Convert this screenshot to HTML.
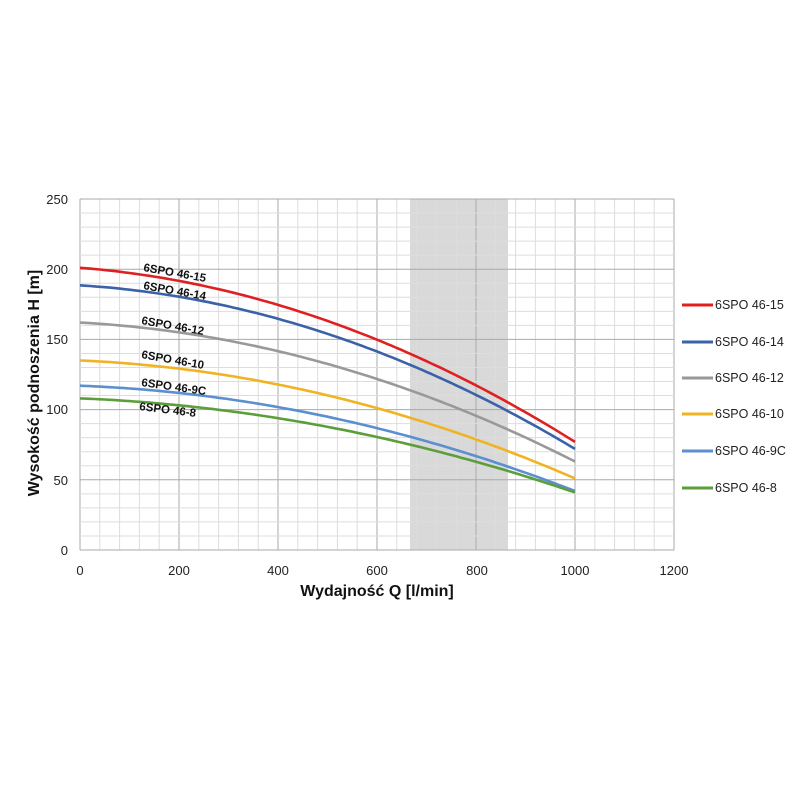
<!DOCTYPE html>
<html><head><meta charset="utf-8"><style>
body{margin:0;background:#fff;width:800px;height:800px;overflow:hidden}
svg{font-family:"Liberation Sans",sans-serif}
</style></head><body>
<svg id="s" width="800" height="800" xmlns="http://www.w3.org/2000/svg">
<rect x="410" y="199" width="98" height="351" fill="#d9d9d9"/>
<g id="grid"></g>
<g id="curves" fill="none" stroke-width="2.6" stroke-linejoin="round"></g>
<g font-size="11.5" font-weight="bold" fill="#111">
<text transform="translate(143,271) rotate(10)">6SPO 46-15</text>
<text transform="translate(143,289) rotate(10)">6SPO 46-14</text>
<text transform="translate(141,324) rotate(10)">6SPO 46-12</text>
<text transform="translate(141,358) rotate(10)">6SPO 46-10</text>
<text transform="translate(141,386) rotate(8)">6SPO 46-9C</text>
<text transform="translate(139,410) rotate(7)">6SPO 46-8</text>
</g>
<g font-size="13" fill="#222" text-anchor="end">
<text x="68" y="204">250</text><text x="68" y="274">200</text><text x="68" y="344">150</text>
<text x="68" y="414">100</text><text x="68" y="485">50</text><text x="68" y="555">0</text>
</g>
<g font-size="13" fill="#222" text-anchor="middle">
<text x="80" y="575">0</text><text x="179" y="575">200</text><text x="278" y="575">400</text>
<text x="377" y="575">600</text><text x="477" y="575">800</text><text x="575" y="575">1000</text><text x="674" y="575">1200</text>
</g>
<text x="377" y="596" font-size="16" font-weight="bold" text-anchor="middle" fill="#111">Wydajność Q [l/min]</text>
<text transform="translate(39,383) rotate(-90)" font-size="16" font-weight="bold" text-anchor="middle" fill="#111">Wysokość podnoszenia H [m]</text>
<g stroke-width="3">
<line x1="682" y1="305" x2="713" y2="305" stroke="#e02020"/>
<line x1="682" y1="342" x2="713" y2="342" stroke="#3b62a8"/>
<line x1="682" y1="378" x2="713" y2="378" stroke="#999"/>
<line x1="682" y1="414" x2="713" y2="414" stroke="#f0b323"/>
<line x1="682" y1="451" x2="713" y2="451" stroke="#5b8fd0"/>
<line x1="682" y1="488" x2="713" y2="488" stroke="#5c9e3c"/>
</g>
<g font-size="12.5" fill="#222">
<text x="715" y="309">6SPO 46-15</text><text x="715" y="346">6SPO 46-14</text>
<text x="715" y="382">6SPO 46-12</text><text x="715" y="418">6SPO 46-10</text>
<text x="715" y="455">6SPO 46-9C</text><text x="715" y="492">6SPO 46-8</text>
</g>
</svg>
<script>
var g=document.getElementById('grid'),h='';
var x0=80,x1=674,y0=550,y1=199;
for(var i=0;i<=30;i++){var x=x0+(x1-x0)*i/30;var maj=i%5==0;
h+='<line x1="'+x+'" y1="'+y1+'" x2="'+x+'" y2="'+y0+'" stroke="'+(maj?'#aaa':'#ddd')+'" stroke-width="1"/>';}
for(var j=0;j<=25;j++){var y=y0-(y0-y1)*j/25;var maj=j%5==0;
h+='<line x1="'+x0+'" y1="'+y+'" x2="'+x1+'" y2="'+y+'" stroke="'+(maj?'#aaa':'#ddd')+'" stroke-width="1"/>';}
g.innerHTML=h;
var series=[['#e02020',201,160,77],['#3b62a8',188.5,151,72],['#999',162,130,63],
['#f0b323',135,108,51],['#5b8fd0',117,93,42],['#5c9e3c',108,86,41]];
var X=[0,525,1000],c='';
series.forEach(function(s){var Y=[s[1],s[2],s[3]],pts=[];
for(var q=0;q<=1000;q+=10){var v=0;
for(var i=0;i<3;i++){var L=1;for(var j=0;j<3;j++)if(j!=i)L*=(q-X[j])/(X[i]-X[j]);v+=Y[i]*L;}
pts.push((80+q*0.495).toFixed(1)+','+(550-v*1.404).toFixed(1));}
c+='<polyline stroke="'+s[0]+'" points="'+pts.join(' ')+'"/>';});
document.getElementById('curves').innerHTML=c;
</script>
</body></html>
